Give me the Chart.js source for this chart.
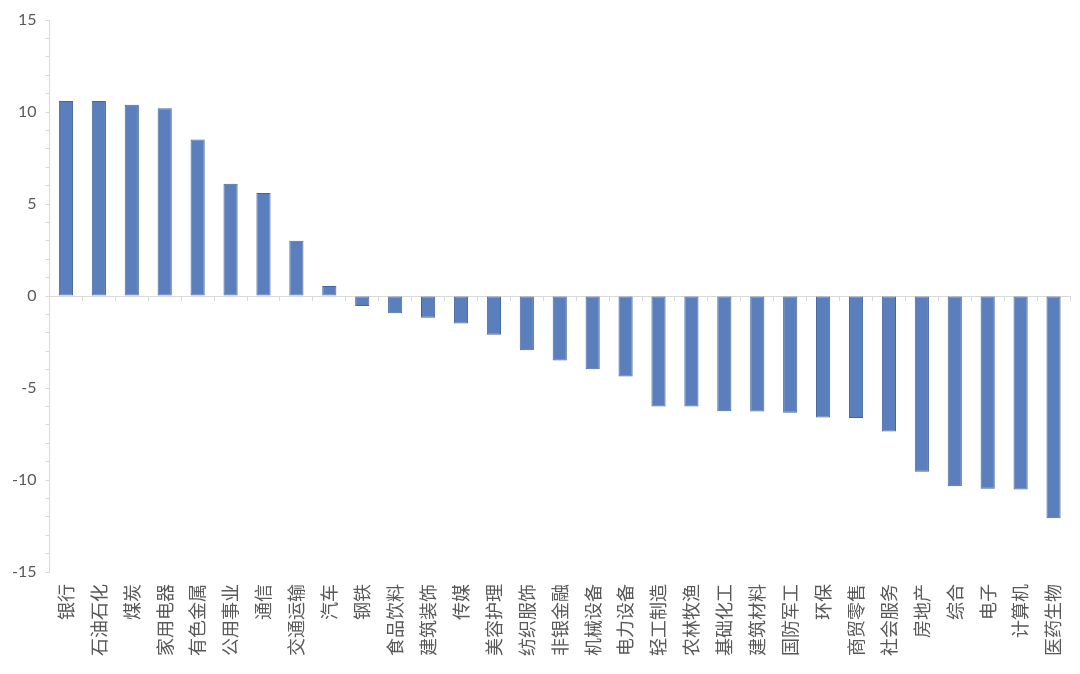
<!DOCTYPE html>
<html>
<head>
<meta charset="utf-8">
<script src="https://cdn.jsdelivr.net/npm/chart.js@4"></script>
<style>
  html, body { margin: 0; padding: 0; background: #fff; }
  #wrap { width: 1080px; height: 674px; }
</style>
</head>
<body>
<div id="wrap"><canvas id="sectorChart" width="1080" height="674"></canvas></div>
<script>
// industries, sorted by change (%)
const sectors = ['银行', '石油石化', '煤炭', '家用电器', '有色金属', '公用事业', '通信', '交通运输', '汽车', '钢铁',
  '食品饮料', '建筑装饰', '传媒', '美容护理', '纺织服饰', '非银金融', '机械设备', '电力设备', '轻工制造', '农林牧渔',
  '基础化工', '建筑材料', '国防军工', '环保', '商贸零售', '社会服务', '房地产', '综合', '电子', '计算机', '医药生物'];
const changes = [10.6, 10.6, 10.4, 10.2, 8.5, 6.1, 5.6, 3.0, 0.55, -0.55,
  -0.94, -1.18, -1.5, -2.1, -2.95, -3.5, -3.98, -4.38, -6.0, -6.0,
  -6.27, -6.28, -6.34, -6.6, -6.63, -7.37, -9.55, -10.34, -10.47, -10.52, -12.08];
const yTicks = [-15, -10, -5, 0, 5, 10, 15];

const axisGrey = '#d9d9d9';
const textGrey = '#595959';

const ctx = document.getElementById('sectorChart').getContext('2d');
new Chart(ctx, {
  type: 'bar',
  data: {
    labels: sectors,
    datasets: [{
      data: changes,
      backgroundColor: '#5b7fbd',
      borderColor: '#44679f',
      borderWidth: 1,
      borderSkipped: false,
      categoryPercentage: 1,
      barPercentage: 0.43
    }]
  },
  options: {
    responsive: false,
    animation: false,
    layout: { padding: { top: 20, right: 10, bottom: 14, left: 3 } },
    plugins: { legend: { display: false }, tooltip: { enabled: false } },
    scales: {
      x: {
        position: 'bottom',
        grid: { display: false },
        border: { display: false },
        ticks: {
          color: textGrey,
          font: { family: '"Noto Sans CJK SC", sans-serif', size: 18 },
          minRotation: 90,
          maxRotation: 90,
          autoSkip: false,
          padding: 4
        }
      },
      // zero line with category boundary ticks
      x0: {
        type: 'category',
        labels: sectors,
        position: { y: 0 },
        offset: true,
        grid: { offset: true, drawOnChartArea: false, tickLength: 4, color: axisGrey },
        border: { display: true, color: axisGrey },
        ticks: { display: false }
      },
      y: {
        min: -15,
        max: 15,
        grid: { drawOnChartArea: false, tickLength: 4, color: axisGrey },
        border: { color: axisGrey },
        ticks: {
          stepSize: 1,
          autoSkip: false,
          color: textGrey,
          padding: 9,
          font: { family: 'Lato, sans-serif', size: 16 },
          callback: v => yTicks.includes(v) ? v : ''
        }
      }
    }
  }
});
</script>
</body>
</html>
